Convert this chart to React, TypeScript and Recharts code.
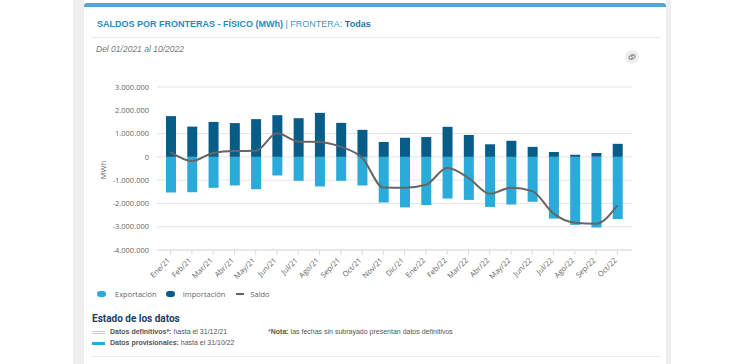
import React from "react";
import {
  ComposedChart,
  Bar,
  Line,
  XAxis,
  YAxis,
  CartesianGrid,
} from "recharts";

const months = [
  "Ene/21", "Feb/21", "Mar/21", "Abr/21", "May/21", "Jun/21", "Jul/21", "Ago/21",
  "Sep/21", "Oct/21", "Nov/21", "Dic/21", "Ene/22", "Feb/22", "Mar/22", "Abr/22",
  "May/22", "Jun/22", "Jul/22", "Ago/22", "Sep/22", "Oct/22",
];

const importacion = [
  1750000, 1300000, 1500000, 1450000, 1620000, 1790000, 1660000, 1890000,
  1460000, 1160000, 640000, 820000, 850000, 1290000, 940000, 540000,
  690000, 430000, 210000, 90000, 170000, 560000,
];

const exportacion = [
  -1530000, -1520000, -1330000, -1230000, -1390000, -800000, -1030000, -1270000,
  -1030000, -1230000, -1960000, -2170000, -2070000, -1790000, -1850000, -2150000,
  -2050000, -1930000, -2650000, -2920000, -3030000, -2670000,
];

const saldo = [
  200000, -180000, 170000, 250000, 260000, 1010000, 660000, 640000,
  430000, -40000, -1320000, -1330000, -1200000, -480000, -900000, -1580000,
  -1330000, -1470000, -2440000, -2830000, -2870000, -2080000,
];

const yTicks = [-4000000, -3000000, -2000000, -1000000, 0, 1000000, 2000000, 3000000];

const data = months.map((m, i) => ({
  month: m,
  importacion: importacion[i],
  exportacion: exportacion[i],
  saldo: saldo[i],
}));

const fmt = (v: number) => {
  const s = Math.abs(v).toString().replace(/\B(?=(\d{3})+(?!\d))/g, ".");
  return v < 0 ? `-${s}` : s;
};

const COLOR_EXP = "#2aabd9";
const COLOR_IMP = "#085c88";
const COLOR_SALDO = "#666666";

// eslint-disable-next-line @typescript-eslint/no-explicit-any
function MonthTick({ x, y, payload }: any) {
  return (
    <g transform={`translate(${x},${y + 4})`}>
      <text
        textAnchor="end"
        transform="rotate(-45)"
        fontSize={7.5}
        fill="#666"
        fontFamily="Open Sans"
      >
        {payload.value}
      </text>
    </g>
  );
}

export default function App() {
  const font = "'Liberation Sans', Arial, sans-serif";
  return (
    <div
      style={{
        position: "absolute",
        left: 0,
        top: 0,
        width: 750,
        height: 364,
        background: "#ffffff",
        overflow: "hidden",
        fontFamily: font,
      }}
    >
      {/* side bands */}
      <div style={{ position: "absolute", left: 73, top: 0, width: 11, height: 364, background: "#efefef" }} />
      <div style={{ position: "absolute", left: 666, top: 0, width: 5, height: 364, background: "#efefef" }} />
      {/* card */}
      <div
        style={{
          position: "absolute",
          left: 84,
          top: 3,
          width: 582,
          height: 361,
          background: "#fff",
          borderTop: "4px solid #5aa5cf",
          borderRadius: "3px 3px 0 0",
        }}
      />
      <div
        style={{
          position: "absolute",
          left: 97,
          top: 19,
          fontSize: 9,
          color: "#1f8dbf",
          whiteSpace: "nowrap",
        }}
      >
        <b>SALDOS POR FRONTERAS - FÍSICO (MWh)</b>
        <span style={{ color: "#3a9bcb" }}> | FRONTERA: </span>
        <b style={{ color: "#1a77a8" }}>Todas</b>
      </div>
      <div style={{ position: "absolute", left: 92, top: 37, width: 568, height: 1, background: "#ececec" }} />
      <div
        style={{
          position: "absolute",
          left: 96,
          top: 44,
          fontSize: 8.5,
          fontStyle: "italic",
          color: "#777",
          whiteSpace: "nowrap",
        }}
      >
        Del 01/2021 al 10/2022
      </div>
      <div
        style={{
          position: "absolute",
          left: 625,
          top: 50,
          width: 14,
          height: 14,
          borderRadius: 7,
          background: "#eeeeee",
        }}
      >
        <svg width={14} height={14} viewBox="0 0 14 14">
          <g stroke="#999" strokeWidth={1.3} fill="none" strokeLinecap="round">
            <path d="M6 8.2 L4.9 9.3 a1.4 1.4 0 0 1 -2 -2 L4.6 5.6 a1.4 1.4 0 0 1 2 0" transform="translate(1.5,-0.5)" />
            <path d="M8 5.8 L9.1 4.7 a1.4 1.4 0 0 1 2 2 L9.4 8.4 a1.4 1.4 0 0 1 -2 0" transform="translate(-1.5,0.5)" />
          </g>
        </svg>
      </div>
      <div
        style={{
          position: "absolute",
          left: 103,
          top: 170,
          fontSize: 7.5,
          color: "#666",
          fontFamily: "Open Sans",
          transform: "translate(-50%,-50%) rotate(-90deg)",
        }}
      >
        MWh
      </div>

      <div style={{ position: "absolute", left: 87, top: 80 }}>
        <ComposedChart
          width={550}
          height={210}
          data={data}
          stackOffset="sign"
          margin={{ top: 7, right: 5, bottom: 0, left: 0 }}
        >
          <CartesianGrid vertical={false} stroke="#e6e6e6" />
          <XAxis
            dataKey="month"
            axisLine={{ stroke: "#dcdcdc" }}
            tickLine={{ stroke: "#dcdcdc" }}
            tickSize={5}
            interval={0}
            height={40}
            padding={{ left: 3, right: 4 }}
            tick={<MonthTick />}
          />
          <YAxis
            width={70}
            domain={[-4000000, 3000000]}
            ticks={yTicks}
            tickFormatter={fmt}
            axisLine={false}
            tickLine={false}
            tick={{ fontSize: 7.5, fill: "#666", fontFamily: "Open Sans" }}
          />
          <Bar dataKey="exportacion" stackId="a" fill={COLOR_EXP} barSize={10} isAnimationActive={false} />
          <Bar dataKey="importacion" stackId="a" fill={COLOR_IMP} barSize={10} isAnimationActive={false} />
          <Line
            type="monotone"
            dataKey="saldo"
            stroke={COLOR_SALDO}
            strokeWidth={2}
            dot={false}
            isAnimationActive={false}
          />
        </ComposedChart>
      </div>

      {/* legend */}
      <div
        style={{
          position: "absolute",
          left: 97,
          top: 288,
          display: "flex",
          alignItems: "center",
          fontSize: 7.5,
          color: "#666",
          fontFamily: "Open Sans",
          whiteSpace: "nowrap",
          height: 12,
        }}
      >
        <span style={{ width: 9, height: 6, borderRadius: 4, background: COLOR_EXP, marginRight: 9 }} />
        <span style={{ marginRight: 9 }}>Exportación</span>
        <span style={{ width: 9, height: 6, borderRadius: 4, background: COLOR_IMP, marginRight: 8 }} />
        <span style={{ marginRight: 11 }}>Importación</span>
        <span style={{ width: 8, height: 2, background: COLOR_SALDO, marginRight: 6 }} />
        <span>Saldo</span>
      </div>

      {/* estado de los datos */}
      <div
        style={{
          position: "absolute",
          left: 92,
          top: 313,
          fontSize: 10,
          fontWeight: 700,
          color: "#1b3d63",
          fontFamily: "Roboto",
          whiteSpace: "nowrap",
        }}
      >
        Estado de los datos
      </div>
      <div style={{ position: "absolute", left: 92, top: 331, width: 13, height: 3, borderTop: "1px solid #ccc", borderBottom: "1px solid #ccc", boxSizing: "border-box" }} />
      <div style={{ position: "absolute", left: 110, top: 328, fontSize: 7, color: "#555", whiteSpace: "nowrap" }}>
        <b style={{ fontWeight: 600 }}>Datos definitivos*:</b> hasta el 31/12/21
      </div>
      <div style={{ position: "absolute", left: 268, top: 328, fontSize: 7, color: "#555", whiteSpace: "nowrap" }}>
        *<b>Nota:</b> las fechas sin subrayado presentan datos definitivos
      </div>
      <div style={{ position: "absolute", left: 92, top: 342, width: 13, height: 3, background: COLOR_EXP }} />
      <div style={{ position: "absolute", left: 110, top: 339, fontSize: 7, color: "#555", whiteSpace: "nowrap" }}>
        <b style={{ fontWeight: 600 }}>Datos provisionales:</b> hasta el 31/10/22
      </div>
      <div style={{ position: "absolute", left: 92, top: 356, width: 568, height: 1, background: "#ececec" }} />
    </div>
  );
}
